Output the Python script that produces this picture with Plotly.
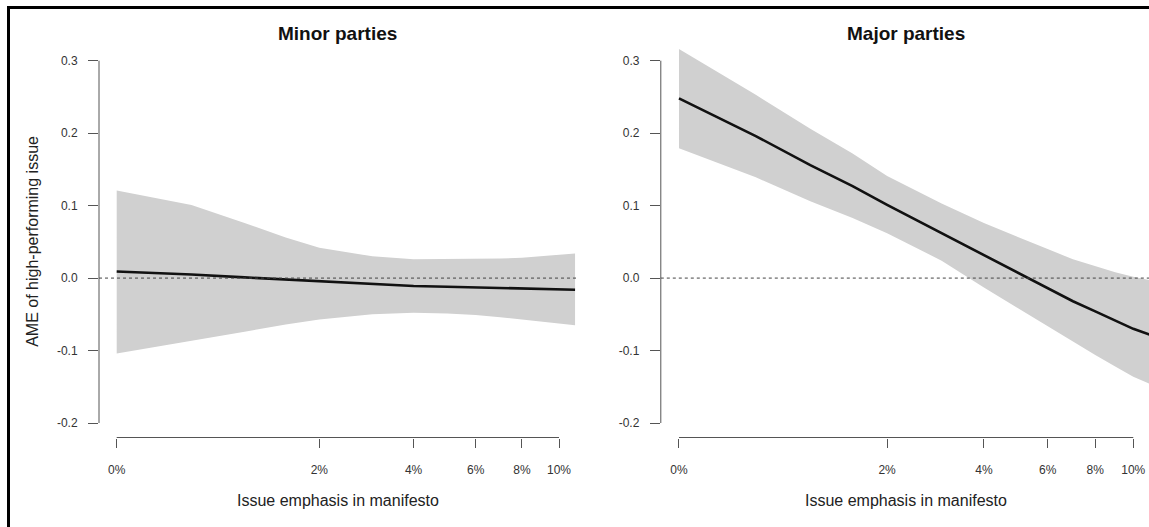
import numpy as np
import plotly.graph_objects as go

# ---- data (issue emphasis in %, AME estimates) ----
emphasis = [0, 0.5, 1, 1.5, 2, 3, 4, 5, 6, 7, 8, 9, 10, 11]

minor_ame   = [0.009, 0.005, 0.001, -0.002, -0.005, -0.008, -0.011, -0.012, -0.013, -0.014, -0.015, -0.015, -0.016, -0.016]
minor_upper = [0.121, 0.101, 0.076, 0.056, 0.042, 0.030, 0.026, 0.026, 0.026, 0.027, 0.028, 0.030, 0.032, 0.034]
minor_lower = [-0.104, -0.087, -0.074, -0.064, -0.057, -0.050, -0.048, -0.049, -0.051, -0.054, -0.057, -0.060, -0.062, -0.065]

major_ame   = [0.248, 0.196, 0.156, 0.127, 0.101, 0.062, 0.031, 0.007, -0.014, -0.032, -0.046, -0.059, -0.070, -0.078]
major_upper = [0.316, 0.253, 0.206, 0.172, 0.141, 0.103, 0.076, 0.056, 0.040, 0.026, 0.016, 0.008, 0.002, -0.003]
major_lower = [0.179, 0.139, 0.106, 0.083, 0.062, 0.024, -0.013, -0.042, -0.066, -0.088, -0.106, -0.122, -0.136, -0.146]

x_ticks = [0, 2, 4, 6, 8, 10]
x_tick_labels = ["0%", "2%", "4%", "6%", "8%", "10%"]
y_ticks = [-0.2, -0.1, 0.0, 0.1, 0.2, 0.3]
y_tick_labels = ["-0.2", "-0.1", "0.0", "0.1", "0.2", "0.3"]

panels = ["Minor parties", "Major parties"]

# ---- layout geometry (pixels) ----
W, H = 1149, 527
FONT = "Liberation Sans, Arial, Helvetica, sans-serif"

def tr(v):
    return np.log1p(np.asarray(v, dtype=float))

pad = 0.04 * float(tr(10))
x_range_left = [-pad, float(tr(10)) + pad]
left_dom = [99 / W, 576.7 / W]
right_start = 660.8
ppu_right = 189.46
x_range_right = [-pad, -pad + (W - right_start) / ppu_right]
right_dom = [right_start / W, 1.0]
y_dom = [1 - 437.5 / H, 1 - 46.2 / H]
y_range = [-0.22, 0.32]

fig = go.Figure()

series = [
    (minor_ame, minor_upper, minor_lower, "x", "y"),
    (major_ame, major_upper, major_lower, "x2", "y2"),
]
for ame, up, lo, xa, ya in series:
    xx = tr(emphasis)
    fig.add_trace(go.Scatter(x=xx, y=lo, mode="lines", line=dict(width=0, color="rgba(0,0,0,0)"),
                             xaxis=xa, yaxis=ya, showlegend=False, hoverinfo="skip"))
    fig.add_trace(go.Scatter(x=xx, y=up, mode="lines", line=dict(width=0, color="rgba(0,0,0,0)"),
                             fill="tonexty", fillcolor="#d0d0d0",
                             xaxis=xa, yaxis=ya, showlegend=False, hoverinfo="skip"))
    fig.add_trace(go.Scatter(x=xx, y=ame, mode="lines", line=dict(width=2.6, color="#111111"),
                             xaxis=xa, yaxis=ya, showlegend=False))

axis_col = "#555555"
tick_font = dict(family=FONT, size=12, color="#333333")

xcommon = dict(tickmode="array", tickvals=list(tr(x_ticks)), ticktext=x_tick_labels,
               ticks="outside", ticklen=9, tickwidth=1, tickcolor=axis_col,
               showgrid=False, zeroline=False, showline=False, tickfont=tick_font,
               ticklabelstandoff=12)
ycommon = dict(tickmode="array", tickvals=y_ticks, ticktext=y_tick_labels, range=y_range,
               ticks="outside", ticklen=10, tickwidth=1, tickcolor=axis_col,
               showgrid=False, zeroline=False, showline=False, tickfont=tick_font,
               ticklabelstandoff=8, domain=y_dom)

fig.update_layout(
    width=W, height=H,
    margin=dict(l=0, r=0, t=0, b=0),
    paper_bgcolor="white", plot_bgcolor="white",
    xaxis=dict(domain=left_dom, range=x_range_left, anchor="y", **xcommon),
    yaxis=dict(anchor="x", **ycommon),
    xaxis2=dict(domain=right_dom, range=x_range_right, anchor="y2", **xcommon),
    yaxis2=dict(anchor="x2", **ycommon),
    font=dict(family=FONT),
)

shapes = []
for xa, ya in [("x", "y"), ("x2", "y2")]:
    # y axis line (spans tick range)
    shapes.append(dict(type="line", xref=f"{xa} domain", yref=ya, x0=0, x1=0,
                       y0=y_ticks[0], y1=y_ticks[-1], line=dict(color=axis_col, width=1)))
    # x axis line (spans tick range)
    shapes.append(dict(type="line", xref=xa, yref=f"{ya} domain", x0=float(tr(x_ticks[0])),
                       x1=float(tr(x_ticks[-1])), y0=0, y1=0, line=dict(color=axis_col, width=1)))
    # zero reference line
    shapes.append(dict(type="line", xref=f"{xa} domain", yref=ya, x0=0, x1=1, y0=0, y1=0,
                       line=dict(color="#444444", width=1, dash="dot")))
# frame (cropped border)
shapes.append(dict(type="line", xref="paper", yref="paper", x0=8.5 / W, x1=8.5 / W,
                   y0=0, y1=1 - 7.5 / H, line=dict(color="black", width=3)))
shapes.append(dict(type="line", xref="paper", yref="paper", x0=7 / W, x1=1,
                   y0=1 - 7.5 / H, y1=1 - 7.5 / H, line=dict(color="black", width=3)))
fig.update_layout(shapes=shapes)

ann = []
centers = [(99 + 576.7) / 2, (660.8 + 1151.5) / 2]
for name, cx in zip(panels, centers):
    ann.append(dict(text=f"<b>{name}</b>", xref="paper", yref="paper", x=cx / W, y=1 - 34 / H,
                    xanchor="center", yanchor="middle", showarrow=False,
                    font=dict(family=FONT, size=19, color="#111111")))
    ann.append(dict(text="Issue emphasis in manifesto", xref="paper", yref="paper",
                    x=cx / W, y=1 - 500 / H, xanchor="center", yanchor="middle", showarrow=False,
                    font=dict(family=FONT, size=16, color="#222222")))
ann.append(dict(text="AME of high-performing issue", xref="paper", yref="paper",
                x=33 / W, y=1 - 241.8 / H, xanchor="center", yanchor="middle", textangle=-90,
                showarrow=False, font=dict(family=FONT, size=16, color="#222222")))
fig.update_layout(annotations=ann)

fig.write_html("out.html",
               config={"displayModeBar": False, "staticPlot": True},
               post_script="document.body.style.margin='0px';document.body.style.padding='0px';"
                           "document.body.style.overflow='hidden';")
